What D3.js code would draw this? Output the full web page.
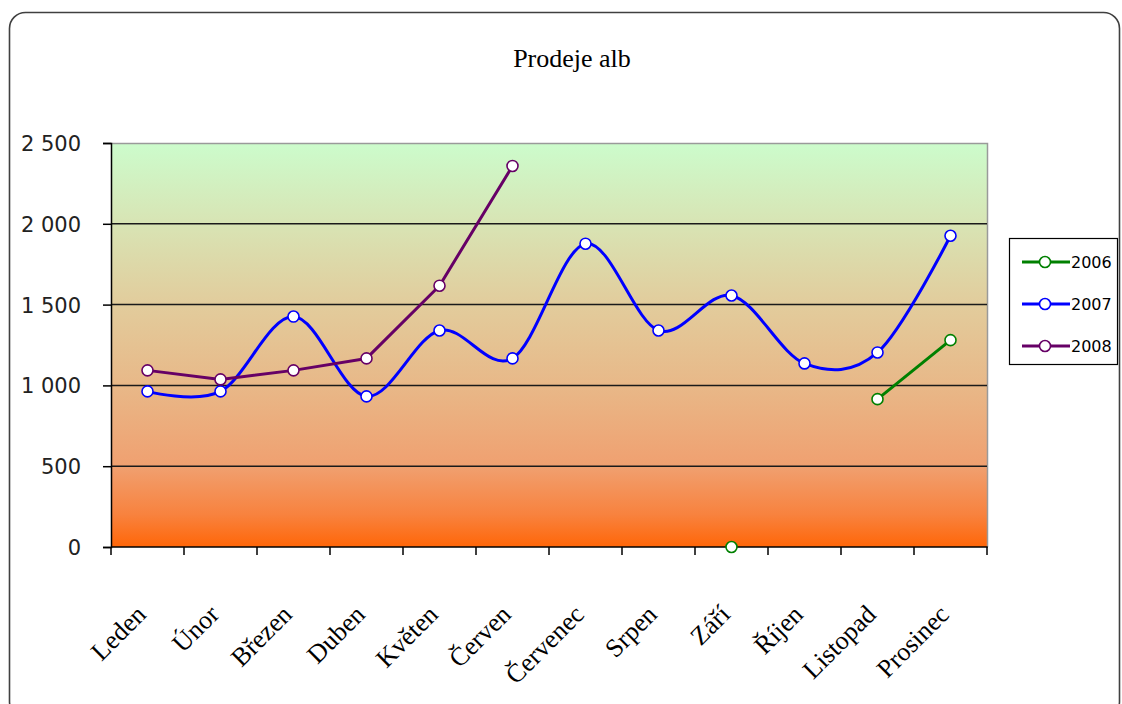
<!DOCTYPE html>
<html><head><meta charset="utf-8">
<script src="https://cdn.jsdelivr.net/npm/d3@7"></script>
<style>html,body{margin:0;padding:0;background:#fff;}svg{display:block;}</style>
</head><body>
<svg id="c" width="1122" height="704"></svg>
<script>
const months = ["Leden","Únor","Březen","Duben","Květen","Červen","Červenec","Srpen","Září","Říjen","Listopad","Prosinec"];
const s2006 = [null,null,null,null,null,null,null,null,0,null,915,1280];
const s2007 = [963,963,1426,932,1340,1167,1877,1340,1556,1136,1204,1926];
const s2008 = [1093,1037,1093,1167,1617,2358,null,null,null,null,null,null];
const yTicks = [0,500,1000,1500,2000,2500];
const seriesNames = ["2006","2007","2008"];
const seriesColors = ["#008000","#0000ff","#660066"];
const title = "Prodeje alb";

const svg = d3.select("#c");
const L = 111, R = 987, T = 143, B = 547;

// outer frame
svg.append("rect").attr("x",9.5).attr("y",12.5).attr("width",1110).attr("height",705)
  .attr("rx",16).attr("fill","#fff").attr("stroke","#404040").attr("stroke-width",1.6);

const defs = svg.append("defs");
const g = defs.append("linearGradient").attr("id","bg").attr("x1",0).attr("y1",0).attr("x2",0).attr("y2",1);
[[0,"#ccfccc"],[0.2,"#d8e4b4"],[0.4,"#e2cc9c"],[0.6,"#e8b888"],[0.8,"#f0a070"],[0.92,"#f8823e"],[1,"#ff6608"]]
  .forEach(([o,c])=>g.append("stop").attr("offset",o).attr("stop-color",c));

const x = d3.scaleBand().domain(months).range([L,R]).padding(0);
const y = d3.scaleLinear().domain([0,2500]).range([B,T]);

svg.append("rect").attr("x",L).attr("y",T).attr("width",R-L).attr("height",B-T).attr("fill","url(#bg)");
// plot border top/right gray
svg.append("path").attr("d",`M${L},${T+0.5}H${R+0.5}V${B}`).attr("fill","none").attr("stroke","#9a9a9a").attr("stroke-width",1.5);

// gridlines
svg.append("g").selectAll("line").data(yTicks.filter(v=>v>0 && v<2500)).join("line")
  .attr("x1",L).attr("x2",R).attr("y1",d=>y(d)).attr("y2",d=>y(d))
  .attr("stroke","#1a1a1a").attr("stroke-width",1.5);

// y axis
const yAxis = svg.append("g").attr("transform",`translate(${L},0)`)
  .call(d3.axisLeft(y).tickValues(yTicks).tickSize(8).tickPadding(22)
    .tickFormat(d=>d3.format(",")(d).replace(/,/g," ")));
yAxis.select(".domain").attr("stroke","#000").attr("stroke-width",1.5);
yAxis.selectAll(".tick line").attr("stroke","#000").attr("stroke-width",1.5);
yAxis.selectAll(".tick text").attr("font-family","DejaVu Sans").attr("font-size","21px").attr("fill","#222").attr("dy","0.36em");

// x axis
const xa = svg.append("g").attr("transform",`translate(0,${B})`);
xa.append("line").attr("x1",L).attr("x2",R+0.75).attr("y1",0).attr("y2",0).attr("stroke","#000").attr("stroke-width",1.5);
const bounds = months.map(m=>x(m)).concat([R]);
xa.selectAll("line.tk").data(bounds).join("line").attr("class","tk")
  .attr("x1",d=>d).attr("x2",d=>d).attr("y1",0).attr("y2",8).attr("stroke","#000").attr("stroke-width",1.5);
xa.selectAll("text").data(months).join("text")
  .attr("transform",d=>`translate(${x(d)+x.bandwidth()/2},${69}) rotate(-45)`)
  .attr("text-anchor","end").attr("font-family","Liberation Serif").attr("font-size","26px").attr("fill","#000")
  .text(d=>d);

// title
svg.append("text").attr("x",572).attr("y",67).attr("text-anchor","middle")
  .attr("font-family","Liberation Serif").attr("font-size","26px").attr("fill","#000").text(title);

const cx = d=>x(months[d.i])+x.bandwidth()/2;
const all = [s2006,s2007,s2008];
const curves = [d3.curveLinear, d3.curveCatmullRom.alpha(0), d3.curveLinear];
all.forEach((s,k)=>{
  const pts = s.map((v,i)=>({i,v}));
  const line = d3.line().defined(d=>d.v!==null).x(cx).y(d=>y(d.v)).curve(curves[k]);
  svg.append("path").datum(pts).attr("d",line).attr("fill","none")
    .attr("stroke",seriesColors[k]).attr("stroke-width",3).attr("stroke-linejoin","round");
});
all.forEach((s,k)=>{
  svg.append("g").selectAll("circle").data(s.map((v,i)=>({i,v})).filter(d=>d.v!==null)).join("circle")
    .attr("cx",cx).attr("cy",d=>y(d.v)).attr("r",5.5)
    .attr("fill","#fff").attr("stroke",seriesColors[k]).attr("stroke-width",1.6);
});

// legend
const lg = svg.append("g");
lg.append("rect").attr("x",1009.5).attr("y",238.5).attr("width",108).attr("height",126)
  .attr("fill","#fff").attr("stroke","#000").attr("stroke-width",1.2);
seriesNames.forEach((n,k)=>{
  const yy = 262 + k*42;
  lg.append("line").attr("x1",1022).attr("x2",1070).attr("y1",yy).attr("y2",yy).attr("stroke",seriesColors[k]).attr("stroke-width",3);
  lg.append("circle").attr("cx",1045).attr("cy",yy).attr("r",5.5).attr("fill","#fff").attr("stroke",seriesColors[k]).attr("stroke-width",1.6);
  lg.append("text").attr("x",1071).attr("y",yy).attr("dy","0.36em").attr("font-family","DejaVu Sans").attr("font-size","16px").attr("fill","#000").text(n);
});
</script>
</body></html>
